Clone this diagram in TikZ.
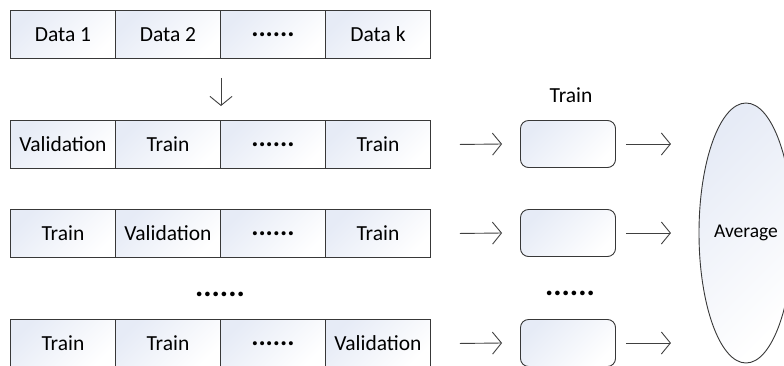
\documentclass[tikz,border=0pt]{standalone}
\usepackage{fontspec}
\setmainfont{Carlito}
\usetikzlibrary{arrows.meta,shapes.geometric}
\definecolor{gb}{HTML}{E6EBF6}
\definecolor{ln}{HTML}{383838}
\definecolor{ar}{HTML}{404040}
\begin{document}
\begin{tikzpicture}[x=1pt,y=-1pt,
  fillgrad/.style={top color=gb, bottom color=white, shading angle=45},
  cell/.style={draw=ln, line width=0.9pt, minimum width=105pt, minimum height=48pt,
    inner sep=0pt, fillgrad, font=\fontsize{21.5}{24}\selectfont, anchor=north west},
  dotcell/.style={cell, font=\fontsize{27}{30}\selectfont\bfseries},
  rbox/.style={draw=ln, line width=0.9pt, minimum width=95pt, minimum height=47pt,
    rounded corners=8pt, inner sep=0pt, fillgrad},
  arr/.style={draw=ar, line width=0.9pt, -{Straight Barb[length=9pt,width=22pt]}},
  lbl/.style={font=\fontsize{21.5}{24}\selectfont, inner sep=0pt},
  bigdots/.style={font=\fontsize{31}{34}\selectfont\bfseries, inner sep=0pt},
  avg/.style={ellipse, draw=ln, line width=0.9pt, minimum width=94pt, minimum height=260pt,
    inner sep=0pt, fillgrad, font=\fontsize{19.5}{22}\selectfont}]
\useasboundingbox (0,0) rectangle (784,365);
\clip (0,0) rectangle (784,365);
% row 0
\node[cell] (a1) at (10,10) {Data 1};
\node[cell] (a2) at (115,10) {Data 2};
\node[dotcell] (a3) at (220,10) {......};
\node[cell] (a4) at (325,10) {Data k};
% row 1
\node[cell] (b1) at (10,120) {Validation};
\node[cell] (b2) at (115,120) {Train};
\node[dotcell] (b3) at (220,120) {......};
\node[cell] (b4) at (325,120) {Train};
% row 2
\node[cell] (c1) at (10,209) {Train};
\node[cell] (c2) at (115,209) {Validation};
\node[dotcell] (c3) at (220,209) {......};
\node[cell] (c4) at (325,209) {Train};
% row 4
\node[cell] (d1) at (10,319) {Train};
\node[cell] (d2) at (115,319) {Train};
\node[dotcell] (d3) at (220,319) {......};
\node[cell] (d4) at (325,319) {Validation};
% middle dots
\node[bigdots] (m1) at (220,294) {......};
\node[bigdots] (m2) at (570,293) {......};
% boxes
\node[rbox] (x1) at (568,144) {};
\node[rbox] (x2) at (568,233) {};
\node[rbox] (x4) at (568,343) {};
\node[lbl] (tr) at (571,95) {Train};
% ellipse
\node[avg] (av) at (746,233) {Average};
% arrows
\draw[arr] ([xshift=1pt,yshift=-19pt]a3.south west) -- ([xshift=1pt,yshift=14pt]b3.north west);
\foreach \r/\b in {b4/x1,c4/x2,d4/x4}{
  \draw[arr] ([xshift=29pt]\r.east) -- ([xshift=-18pt]\b.west);
  \draw[arr] ([xshift=10pt]\b.east) -- ([xshift=55pt]\b.east);
}
\end{tikzpicture}
\end{document}
